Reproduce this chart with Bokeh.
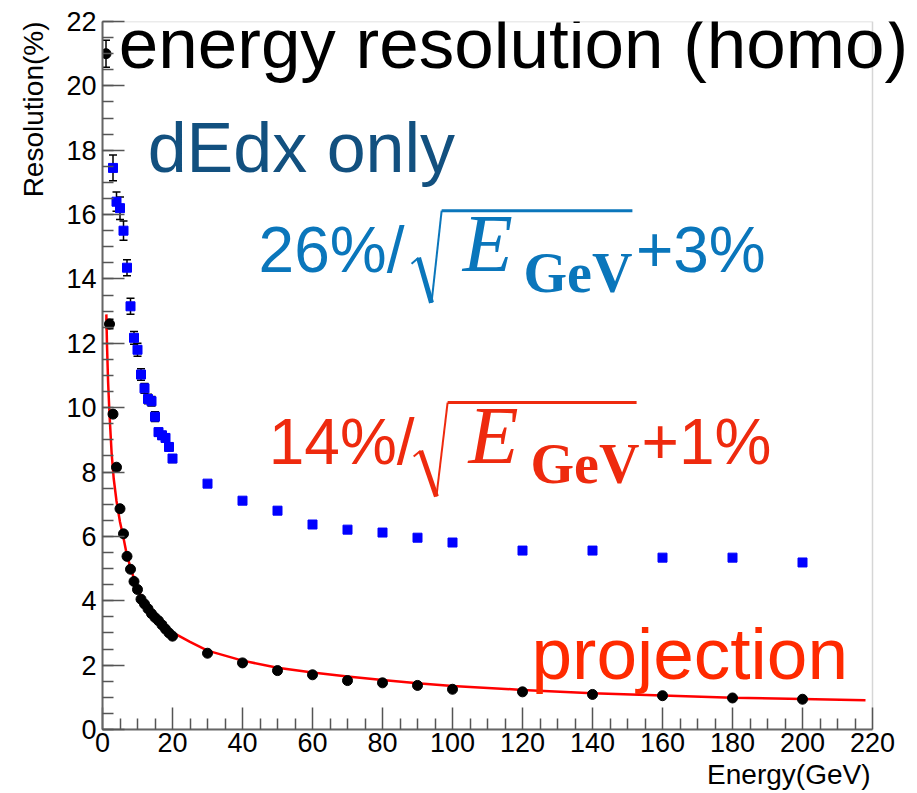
from bokeh.plotting import figure
from bokeh.models import (Range1d, FixedTicker, SingleIntervalTicker, Label, Whisker,
                          ColumnDataSource, TeeHead, Title, BoxAnnotation)
from bokeh.embed import file_html
from bokeh.resources import INLINE

# ---------------- data ----------------
energy_proj = [1, 2, 3, 4, 5, 6, 7, 8, 9, 10, 11, 12, 13, 14, 15, 16, 17, 18, 19, 20,
               30, 40, 50, 60, 70, 80, 90, 100, 120, 140, 160, 180, 200]
res_proj = [21.0, 12.6, 9.8, 8.15, 6.86, 6.08, 5.38, 4.98, 4.6, 4.35, 4.05, 3.9, 3.75, 3.6,
            3.48, 3.38, 3.25, 3.12, 3.0, 2.9,
            2.37, 2.07, 1.83, 1.70, 1.52, 1.45, 1.37, 1.25, 1.17, 1.09, 1.05, 0.98, 0.94]
err_proj = [0.42, 0.15, 0.10, 0.08, 0.06, 0.05, 0.05, 0.05, 0.04, 0.04, 0.04, 0.04, 0.04, 0.04,
            0.04, 0.04, 0.04, 0.04, 0.04, 0.04,
            0.03, 0.03, 0.03, 0.03, 0.03, 0.03, 0.03, 0.03, 0.03, 0.03, 0.03, 0.03, 0.03]

energy_dedx = [3, 4, 5, 6, 7, 8, 9, 10, 11, 12, 13, 14, 15, 16, 17, 18, 19, 20,
               30, 40, 50, 60, 70, 80, 90, 100, 120, 140, 160, 180, 200]
res_dedx = [17.45, 16.4, 16.2, 15.5, 14.35, 13.15, 12.17, 11.8, 11.03, 10.6, 10.27, 10.2,
            9.72, 9.24, 9.14, 9.06, 8.78, 8.42,
            7.64, 7.11, 6.80, 6.37, 6.21, 6.12, 5.96, 5.81, 5.56, 5.56, 5.34, 5.34, 5.19]
err_dedx = [0.40, 0.30, 0.35, 0.30, 0.25, 0.25, 0.20, 0.20, 0.18, 0.15, 0.15, 0.15,
            0.15, 0.12, 0.12, 0.12, 0.12, 0.12,
            0.05, 0.05, 0.05, 0.05, 0.05, 0.05, 0.05, 0.05, 0.05, 0.05, 0.05, 0.05, 0.05]

fit_energy = [1.1, 1.3, 1.6, 2.0, 2.6, 3.2, 4.0, 5.0, 6.0, 7.0, 8.5, 10.5, 13, 16, 20, 25,
              30, 40, 50, 60, 70, 80, 90, 100, 120, 140, 160, 180, 200, 218]
fit_res = [12.9, 11.9, 10.8, 9.8, 8.6, 7.8, 7.1, 6.45, 5.95, 5.4, 4.85, 4.25, 3.8, 3.4, 3.02, 2.72,
           2.45, 2.14, 1.92, 1.77, 1.65, 1.54, 1.44, 1.35, 1.23, 1.13, 1.06, 0.99, 0.95, 0.91]

x_major_ticks = [0, 20, 40, 60, 80, 100, 120, 140, 160, 180, 200, 220]
x_minor_ticks = [v for v in range(0, 221, 5) if v % 20 != 0]
x_axis_end = 220
y_axis_end = 22

# ---------------- figure ----------------
W, H = 917, 793
BL, BT, BB = 102, 21, 64
frame_w = W - BL
x_view_end = x_axis_end * frame_w / 770.0   # frame extends to the right edge; axis stops at 220
px_per_y = (H - BT - BB) / y_axis_end

p = figure(width=W, height=H, x_range=Range1d(0, x_view_end), y_range=Range1d(0, y_axis_end),
           output_backend="svg", toolbar_location=None,
           min_border_left=BL, min_border_right=0, min_border_top=BT, min_border_bottom=BB)
p.xgrid.visible = False
p.ygrid.visible = False
p.background_fill_color = "white"
p.border_fill_color = "white"
p.outline_line_color = None

p.xaxis.ticker = FixedTicker(ticks=x_major_ticks, minor_ticks=x_minor_ticks)
p.yaxis.ticker = SingleIntervalTicker(interval=2, num_minor_ticks=4)
p.xaxis.bounds = (0, x_axis_end)
for ax in (p.xaxis[0], p.yaxis[0]):
    ax.major_tick_in = 22
    ax.major_tick_out = 0
    ax.minor_tick_in = 11
    ax.minor_tick_out = 0
    ax.major_tick_line_color = "#555555"
    ax.minor_tick_line_color = "#555555"
    ax.major_tick_line_width = 1.5
    ax.minor_tick_line_width = 1.5
    ax.axis_line_color = "#666666"
    ax.axis_line_width = 2
    ax.major_label_text_font = "Liberation Sans"
    ax.major_label_text_font_size = "27px"
    ax.major_label_text_color = "black"
p.xaxis.major_label_standoff = 3
p.yaxis.major_label_standoff = 6

# frame box (0..220 x 0..22)
p.add_layout(BoxAnnotation(left=0, right=x_axis_end, bottom=0, top=y_axis_end,
                           fill_alpha=0, line_color="#777777", line_width=1.5, level="underlay"))

# ---------------- fit curve ----------------
p.line(fit_energy, fit_res, line_color="red", line_width=2.5)

# ---------------- error bars ----------------
def add_err(xs, ys, es):
    src = ColumnDataSource(dict(x=xs, up=[y + e for y, e in zip(ys, es)],
                                lo=[y - e for y, e in zip(ys, es)]))
    w = Whisker(base="x", upper="up", lower="lo", source=src, dimension="height",
                line_color="black", line_width=1.5,
                upper_head=TeeHead(size=8, line_color="black", line_width=1.5),
                lower_head=TeeHead(size=8, line_color="black", line_width=1.5))
    p.add_layout(w)

add_err(energy_proj, res_proj, err_proj)
add_err(energy_dedx, res_dedx, err_dedx)

p.scatter(energy_dedx, res_dedx, marker="square", size=9, fill_color="#0000ff", line_color="#0000ff")
p.scatter(energy_proj, res_proj, marker="circle", size=10, fill_color="black", line_color="black")

# ---------------- texts ----------------
BASE_FIX = 0.37  # label baseline correction, fraction of font size


def lab(x, y, text, size, color, font="Liberation Sans", style="normal", align="left"):
    p.add_layout(Label(x=x, y=y + BASE_FIX * size / px_per_y, text=text, text_font=font,
                       text_font_size=f"{size}px", text_color=color, text_font_style=style,
                       text_align=align, text_baseline="alphabetic"))


BLUE_F = "#0a76bb"
RED_F = "#ee2a0e"

lab(4.65, 20.5, "energy resolution (homo)", 71, "black")
lab(12.9, 17.25, "dEdx only", 70, "#12507f")
lab(213.0, 1.52, "projection", 73, "#ff2a00", align="right")

# blue formula
lab(44.6, 14.16, "26%/", 64, BLUE_F)
lab(102.9, 14.16, "E", 82, BLUE_F, font="Liberation Serif", style="italic")
lab(120.3, 13.55, "GeV", 56, BLUE_F, font="Liberation Serif", style="bold")
lab(152.4, 14.16, "+3%", 64, BLUE_F)
# red formula
lab(47.5, 8.2, "14%/", 64, RED_F)
lab(104.6, 8.2, "E", 82, RED_F, font="Liberation Serif", style="italic")
lab(122.3, 7.6, "GeV", 56, RED_F, font="Liberation Serif", style="bold")
lab(154.0, 8.2, "+1%", 64, RED_F)

# radical signs (hook, thick down-stroke, thin up-stroke, overline)
rad_src = ColumnDataSource(dict(
    xs=[[88.3, 90.3], [90.3, 94.0], [94.0, 96.9], [96.9, 151.4],
        [88.9, 90.9], [90.9, 95.4], [95.4, 98.6], [98.6, 152.6]],
    ys=[[14.47, 14.66], [14.66, 13.26], [13.26, 16.12], [16.12, 16.12],
        [8.48, 8.66], [8.66, 7.24], [7.24, 10.16], [10.16, 10.16]],
    lw=[2, 5, 2, 3, 2, 5, 2, 3],
    c=[BLUE_F] * 4 + [RED_F] * 4,
))
p.multi_line("xs", "ys", line_width="lw", line_color="c", source=rad_src)

# axis titles (ROOT style: placed at the far end of each axis)
p.add_layout(Title(text="Resolution(%)", align="right", text_font="Liberation Sans",
                   text_font_size="28px", text_font_style="normal", text_color="black",
                   standoff=30, offset=0), "left")
p.add_layout(Title(text="Energy(GeV)", align="right", text_font="Liberation Sans",
                   text_font_size="28px", text_font_style="normal", text_color="black",
                   standoff=5, offset=W - BL - 770 + 2), "below")

open("out.html", "w").write(file_html(p, INLINE))
